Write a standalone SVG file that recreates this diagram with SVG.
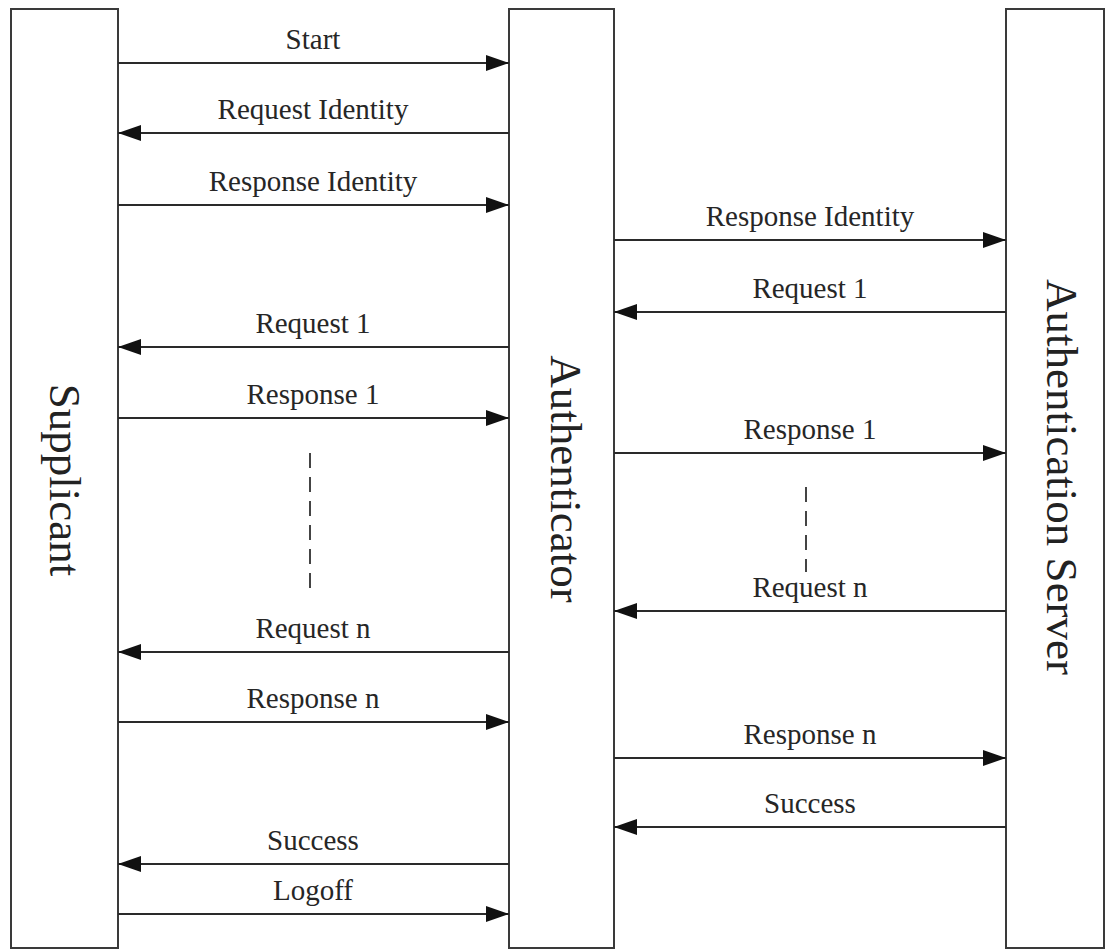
<svg xmlns="http://www.w3.org/2000/svg" width="1105" height="949" viewBox="0 0 1105 949">
  <style>
    .lane { fill: #ffffff; stroke: #3a3a3a; stroke-width: 2; }
    .lane-label { font-family: "Liberation Serif", "Times New Roman", serif; font-size: 45px; fill: #222; text-anchor: middle; }
    .msg { stroke: #2a2a2a; stroke-width: 2.2; fill: none; marker-end: url(#head); }
    .msg-label { font-family: "Liberation Serif", "Times New Roman", serif; font-size: 29px; fill: #262626; text-anchor: middle; }
    .gap { stroke: #444; stroke-width: 2; stroke-dasharray: 15 9; fill: none; }
  </style>
  <defs>
    <marker id="head" viewBox="0 0 23 16" refX="23" refY="8" markerWidth="23" markerHeight="16" markerUnits="userSpaceOnUse" orient="auto">
      <path d="M0,0 L23,8 L0,16 Z" fill="#111"/>
    </marker>
  </defs>

  <rect width="1105" height="949" fill="#ffffff"/>

  <!-- participants -->
  <g id="supplicant">
    <rect class="lane" x="11" y="9" width="107" height="939"/>
    <text class="lane-label" transform="translate(65,480) rotate(90)" y="15">Supplicant</text>
  </g>
  <g id="authenticator">
    <rect class="lane" x="509" y="9" width="105" height="939"/>
    <text class="lane-label" transform="translate(566,479) rotate(90)" y="15">Authenticator</text>
  </g>
  <g id="authentication-server">
    <rect class="lane" x="1006" y="9" width="98" height="939"/>
    <text class="lane-label" transform="translate(1062,477) rotate(90)" y="15">Authentication Server</text>
  </g>

  <!-- messages -->
  <g id="connectors">
    <!-- supplicant <-> authenticator -->
    <line class="msg" x1="118" y1="63" x2="509" y2="63"/>
    <text class="msg-label" x="313" y="49">Start</text>

    <line class="msg" x1="509" y1="133" x2="118" y2="133"/>
    <text class="msg-label" x="313" y="119">Request Identity</text>

    <line class="msg" x1="118" y1="205" x2="509" y2="205"/>
    <text class="msg-label" x="313" y="191">Response Identity</text>

    <line class="msg" x1="509" y1="347" x2="118" y2="347"/>
    <text class="msg-label" x="313" y="333">Request 1</text>

    <line class="msg" x1="118" y1="418" x2="509" y2="418"/>
    <text class="msg-label" x="313" y="404">Response 1</text>

    <line class="gap" x1="310" y1="453" x2="310" y2="588"/>

    <line class="msg" x1="509" y1="652" x2="118" y2="652"/>
    <text class="msg-label" x="313" y="638">Request n</text>

    <line class="msg" x1="118" y1="722" x2="509" y2="722"/>
    <text class="msg-label" x="313" y="708">Response n</text>

    <line class="msg" x1="509" y1="864" x2="118" y2="864"/>
    <text class="msg-label" x="313" y="850">Success</text>

    <line class="msg" x1="118" y1="914" x2="509" y2="914"/>
    <text class="msg-label" x="313" y="900">Logoff</text>

    <!-- authenticator <-> authentication server -->
    <line class="msg" x1="614" y1="240" x2="1006" y2="240"/>
    <text class="msg-label" x="810" y="226">Response Identity</text>

    <line class="msg" x1="1006" y1="312" x2="614" y2="312"/>
    <text class="msg-label" x="810" y="298">Request 1</text>

    <line class="msg" x1="614" y1="453" x2="1006" y2="453"/>
    <text class="msg-label" x="810" y="439">Response 1</text>

    <line class="gap" x1="806" y1="487" x2="806" y2="572"/>

    <line class="msg" x1="1006" y1="611" x2="614" y2="611"/>
    <text class="msg-label" x="810" y="597">Request n</text>

    <line class="msg" x1="614" y1="758" x2="1006" y2="758"/>
    <text class="msg-label" x="810" y="744">Response n</text>

    <line class="msg" x1="1006" y1="827" x2="614" y2="827"/>
    <text class="msg-label" x="810" y="813">Success</text>
  </g>
</svg>
